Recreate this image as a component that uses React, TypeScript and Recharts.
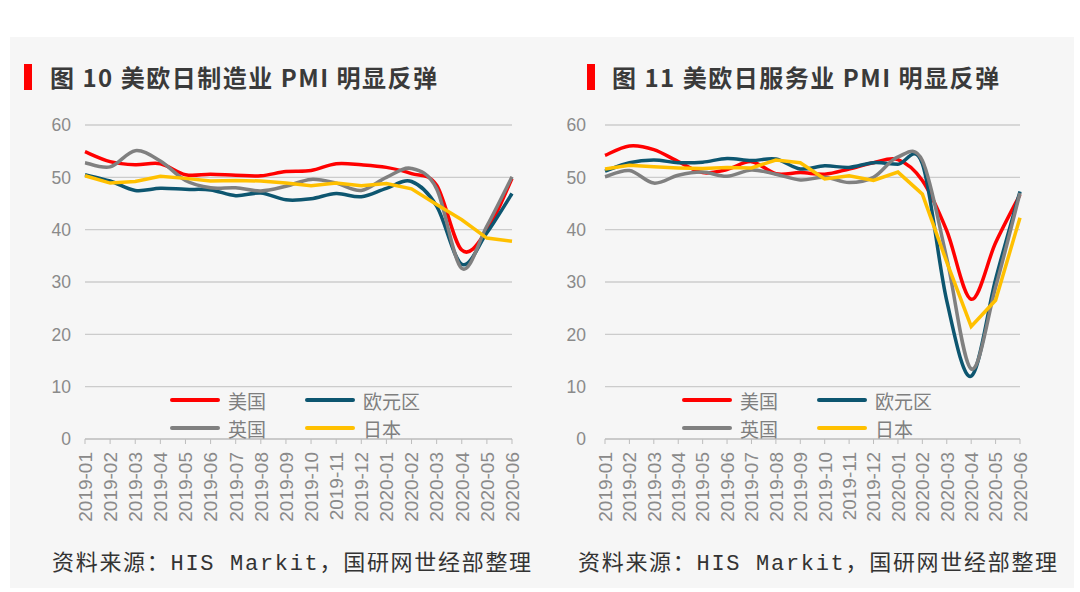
import React from 'react';
import {
  LineChart,
  Line,
  XAxis,
  YAxis,
  CartesianGrid,
  Legend,
} from 'recharts';

const months = [
  '2019-01', '2019-02', '2019-03', '2019-04', '2019-05', '2019-06',
  '2019-07', '2019-08', '2019-09', '2019-10', '2019-11', '2019-12',
  '2020-01', '2020-02', '2020-03', '2020-04', '2020-05', '2020-06',
];

const yTicks = [0, 10, 20, 30, 40, 50, 60];

// manufacturing PMI
const usMfg = [54.9, 53.0, 52.4, 52.6, 50.5, 50.6, 50.4, 50.3, 51.1, 51.3, 52.6, 52.4, 51.9, 50.7, 48.5, 36.1, 39.8, 49.8];
const euMfg = [50.5, 49.3, 47.5, 47.9, 47.7, 47.6, 46.5, 47.0, 45.7, 45.9, 46.9, 46.3, 47.9, 49.2, 44.5, 33.4, 39.4, 46.9];
const ukMfg = [52.8, 52.0, 55.1, 53.1, 49.4, 48.0, 48.0, 47.4, 48.3, 49.6, 48.9, 47.5, 50.0, 51.7, 47.8, 32.6, 40.7, 50.1];
const jpMfg = [50.3, 48.9, 49.2, 50.2, 49.8, 49.3, 49.4, 49.3, 48.9, 48.4, 48.9, 48.4, 48.8, 47.8, 44.8, 41.9, 38.4, 37.8];

// services PMI
const usSvc = [54.2, 56.0, 55.3, 53.0, 50.9, 51.5, 53.0, 50.7, 50.9, 50.6, 51.6, 52.8, 53.4, 49.4, 39.8, 26.7, 37.5, 46.7];
const euSvc = [51.2, 52.8, 53.3, 52.8, 52.9, 53.6, 53.2, 53.5, 51.6, 52.2, 51.9, 52.8, 52.5, 52.6, 26.4, 12.0, 30.5, 47.3];
const ukSvc = [50.1, 51.3, 48.9, 50.4, 51.0, 50.2, 51.4, 50.6, 49.5, 50.0, 49.0, 50.0, 53.9, 53.2, 34.5, 13.4, 29.0, 47.0];
const jpSvc = [51.6, 52.3, 52.0, 51.8, 51.7, 51.9, 51.8, 53.3, 52.8, 49.7, 50.3, 49.4, 51.0, 46.8, 33.8, 21.5, 26.5, 42.3];

const seriesNames = ['美国', '欧元区', '英国', '日本'];
const colors = ['#ff0000', '#0d5670', '#808080', '#ffc000'];

const mfgData = months.map((m, i) => ({ month: m, us: usMfg[i], eu: euMfg[i], uk: ukMfg[i], jp: jpMfg[i] }));
const svcData = months.map((m, i) => ({ month: m, us: usSvc[i], eu: euSvc[i], uk: ukSvc[i], jp: jpSvc[i] }));

// excel-like smoothed line (catmull-rom through points)
const smooth = (context: any) => {
  let pts: number[][] = [];
  return {
    areaStart() {},
    areaEnd() {},
    lineStart() {
      pts = [];
    },
    point(x: number, y: number) {
      pts.push([x, y]);
    },
    lineEnd() {
      if (!pts.length) return;
      context.moveTo(pts[0][0], pts[0][1]);
      for (let i = 0; i < pts.length - 1; i++) {
        const p0 = pts[i - 1] || pts[i];
        const p1 = pts[i];
        const p2 = pts[i + 1];
        const p3 = pts[i + 2] || p2;
        context.bezierCurveTo(
          p1[0] + (p2[0] - p0[0]) / 6,
          p1[1] + (p2[1] - p0[1]) / 6,
          p2[0] - (p3[0] - p1[0]) / 6,
          p2[1] - (p3[1] - p1[1]) / 6,
          p2[0],
          p2[1]
        );
      }
    },
  };
};

const XTick = (props: any) => {
  const { x, y, payload } = props;
  return (
    <text
      x={x}
      y={y}
      transform={`rotate(-90, ${x}, ${y})`}
      textAnchor='end'
      dy='0.36em'
      fontSize={19}
      fill='#8a8a8a'
      fontFamily='"Liberation Sans", Arial, sans-serif'
    >
      {payload.value}
    </text>
  );
};

const LegendBox = () => (
  <div
    style={{
      display: 'grid',
      gridTemplateColumns: '135px 135px',
      rowGap: 4,
      fontFamily: '"Noto Sans CJK SC", sans-serif',
      fontSize: 19,
      color: '#7f7f7f',
    }}
  >
    {seriesNames.map((n, i) => (
      <div key={n} style={{ display: 'flex', alignItems: 'center', height: 24 }}>
        <span
          style={{
            display: 'inline-block',
            width: 50,
            height: 4,
            borderRadius: 2,
            background: colors[i],
            marginRight: 8,
          }}
        />
        <span>{n}</span>
      </div>
    ))}
  </div>
);

interface PanelProps {
  data: any[];
  left: number;
  rightMargin: number;
  legendLeft: number;
  tickGap: number;
}

const Panel: React.FC<PanelProps> = ({ data, left, rightMargin, legendLeft, tickGap }) => (
  <div style={{ position: 'absolute', left, top: 100 }}>
    <LineChart
      width={540}
      height={430}
      data={data}
      margin={{ top: 25, right: rightMargin, bottom: 0, left: 0 }}
    >
      <CartesianGrid vertical={false} stroke='#cccccc' strokeWidth={1.3} />
      <XAxis
        dataKey='month'
        interval={0}
        height={91}
        stroke='#bdbdbd'
        tickSize={5}
        tickMargin={8}
        tick={<XTick />}
      />
      <YAxis
        domain={[0, 60]}
        ticks={yTicks}
        width={85}
        axisLine={false}
        tickLine={false}
        tickSize={0}
        tickMargin={tickGap}
        tick={{ fill: '#8a8a8a', fontSize: 17.5, fontFamily: '"Liberation Sans", Arial, sans-serif' }}
      />
      <Legend
        layout='horizontal'
        verticalAlign='middle'
        align='center'
        content={<LegendBox />}
        wrapperStyle={{ left: legendLeft, top: 288, width: 280, height: 56, bottom: 'auto' }}
      />
      <Line dataKey='us' name='美国' type={smooth as any} stroke={colors[0]} strokeWidth={3.5} dot={false} isAnimationActive={false} />
      <Line dataKey='eu' name='欧元区' type={smooth as any} stroke={colors[1]} strokeWidth={3.5} dot={false} isAnimationActive={false} />
      <Line dataKey='uk' name='英国' type={smooth as any} stroke={colors[2]} strokeWidth={3.5} dot={false} isAnimationActive={false} />
      <Line dataKey='jp' name='日本' type='linear' stroke={colors[3]} strokeWidth={3.5} dot={false} isAnimationActive={false} />
    </LineChart>
  </div>
);

const titleStyle: React.CSSProperties = {
  position: 'absolute',
  top: 62,
  height: 30,
  lineHeight: '30px',
  fontFamily: '"Noto Sans CJK SC", sans-serif',
  fontWeight: 700,
  fontSize: 24,
  letterSpacing: 1.5,
  color: '#3a3a3a',
  whiteSpace: 'nowrap',
};

const sourceStyle: React.CSSProperties = {
  position: 'absolute',
  top: 550,
  height: 30,
  lineHeight: '30px',
  fontFamily: '"Liberation Mono", "Noto Sans CJK SC", monospace',
  fontSize: 22,
  letterSpacing: 1.7,
  color: '#333333',
  whiteSpace: 'nowrap',
};

const App: React.FC = () => {
  return (
    <div style={{ position: 'fixed', left: 0, top: 0, width: 1080, height: 592, background: '#ffffff', overflow: 'hidden' }}>
      <div style={{ position: 'absolute', left: 10, top: 37, width: 1064, height: 551, background: '#f6f6f6' }} />

      <div style={{ position: 'absolute', left: 24, top: 64, width: 8, height: 26, background: '#ff0000' }} />
      <div style={{ ...titleStyle, left: 50 }}>图 10 美欧日制造业 PMI 明显反弹</div>
      <div style={{ position: 'absolute', left: 587, top: 64, width: 8, height: 26, background: '#ff0000' }} />
      <div style={{ ...titleStyle, left: 612 }}>图 11 美欧日服务业 PMI 明显反弹</div>

      <Panel data={mfgData} left={0} rightMargin={28} legendLeft={170} tickGap={14} />
      <Panel data={svcData} left={520} rightMargin={40} legendLeft={162} tickGap={19} />

      <div style={{ ...sourceStyle, left: 52 }}>资料来源：HIS Markit，国研网世经部整理</div>
      <div style={{ ...sourceStyle, left: 578 }}>资料来源：HIS Markit，国研网世经部整理</div>
    </div>
  );
};

export default App;
